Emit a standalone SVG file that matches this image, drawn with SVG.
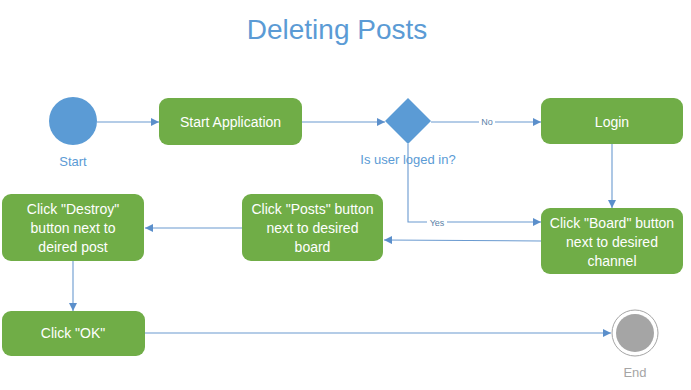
<svg xmlns="http://www.w3.org/2000/svg" width="691" height="390" viewBox="0 0 691 390">
  <defs>
    <marker id="arrow" viewBox="0 0 10 10" refX="10" refY="5" markerWidth="8" markerHeight="8" markerUnits="userSpaceOnUse" orient="auto">
      <path d="M0,0 L10,5 L0,10 Z" fill="#5B8FCB"/>
    </marker>
  </defs>
  <style>
    .box { fill: #70AD47; }
    .btxt { fill: #FFFFFF; font-family: "Liberation Sans", Arial, sans-serif; font-size: 14px; text-anchor: middle; }
    .lbl { fill: #5B9BD5; font-family: "Liberation Sans", Arial, sans-serif; font-size: 13px; text-anchor: middle; }
    .edge { fill: none; stroke: #6A9AD0; stroke-width: 1.1; marker-end: url(#arrow); }
    .elbl { fill: #5B7FA8; font-family: "Liberation Sans", Arial, sans-serif; font-size: 9px; text-anchor: middle; }
  </style>
  <rect width="691" height="390" fill="#FFFFFF"/>

  <text x="337" y="39" font-family="Liberation Sans, Arial, sans-serif" font-size="28" fill="#5B9BD5" text-anchor="middle">Deleting Posts</text>

  <g id="connectors">
    <path class="edge" d="M97,122 H159"/>
    <path class="edge" d="M302,122 H385"/>
    <path class="edge" d="M431,122 H541"/>
    <rect x="479" y="116" width="16" height="11" fill="#FFFFFF"/>
    <text class="elbl" x="487" y="125">No</text>
    <path class="edge" d="M408,144 V222 H541"/>
    <rect x="427" y="217" width="20" height="11" fill="#FFFFFF"/>
    <text class="elbl" x="437" y="226">Yes</text>
    <path class="edge" d="M612,144 V208"/>
    <path class="edge" d="M541,241 L384,240"/>
    <path class="edge" d="M242,228 H145"/>
    <path class="edge" d="M73,261 V311"/>
    <path class="edge" d="M145,333 H611"/>
  </g>

  <g id="start">
    <circle cx="73" cy="121" r="24" fill="#5B9BD5"/>
    <text class="lbl" x="73" y="166">Start</text>
  </g>

  <g id="start-application">
    <rect class="box" x="159" y="98" width="143" height="47" rx="9"/>
    <text class="btxt" x="230.5" y="127">Start Application</text>
  </g>

  <g id="is-user-logged-in">
    <polygon points="408,98 431,121 408,144 385,121" fill="#5B9BD5"/>
    <text class="lbl" x="408" y="164" font-size="14">Is user loged in?</text>
  </g>

  <g id="login">
    <rect class="box" x="541" y="98" width="142" height="46" rx="9"/>
    <text class="btxt" x="612" y="127">Login</text>
  </g>

  <g id="click-board">
    <rect class="box" x="541" y="208" width="142" height="66" rx="9"/>
    <text class="btxt" x="612" y="228">Click "Board" button</text>
    <text class="btxt" x="612" y="247">next to desired</text>
    <text class="btxt" x="612" y="266">channel</text>
  </g>

  <g id="click-posts">
    <rect class="box" x="242" y="194" width="141" height="67" rx="9"/>
    <text class="btxt" x="312.5" y="214">Click "Posts" button</text>
    <text class="btxt" x="312.5" y="233">next to desired</text>
    <text class="btxt" x="312.5" y="252">board</text>
  </g>

  <g id="click-destroy">
    <rect class="box" x="2" y="194" width="142" height="67" rx="9"/>
    <text class="btxt" x="73" y="214">Click "Destroy"</text>
    <text class="btxt" x="73" y="233">button next to</text>
    <text class="btxt" x="73" y="252">deired post</text>
  </g>

  <g id="click-ok">
    <rect class="box" x="2" y="311" width="143" height="45" rx="9"/>
    <text class="btxt" x="73" y="338">Click "OK"</text>
  </g>

  <g id="end">
    <circle cx="635" cy="333" r="23" fill="#FFFFFF" stroke="#A5A5A5" stroke-width="1"/>
    <circle cx="635" cy="333" r="19" fill="#A5A5A5"/>
    <text class="lbl" x="635" y="377" style="fill:#A5A5A5">End</text>
  </g>
</svg>
